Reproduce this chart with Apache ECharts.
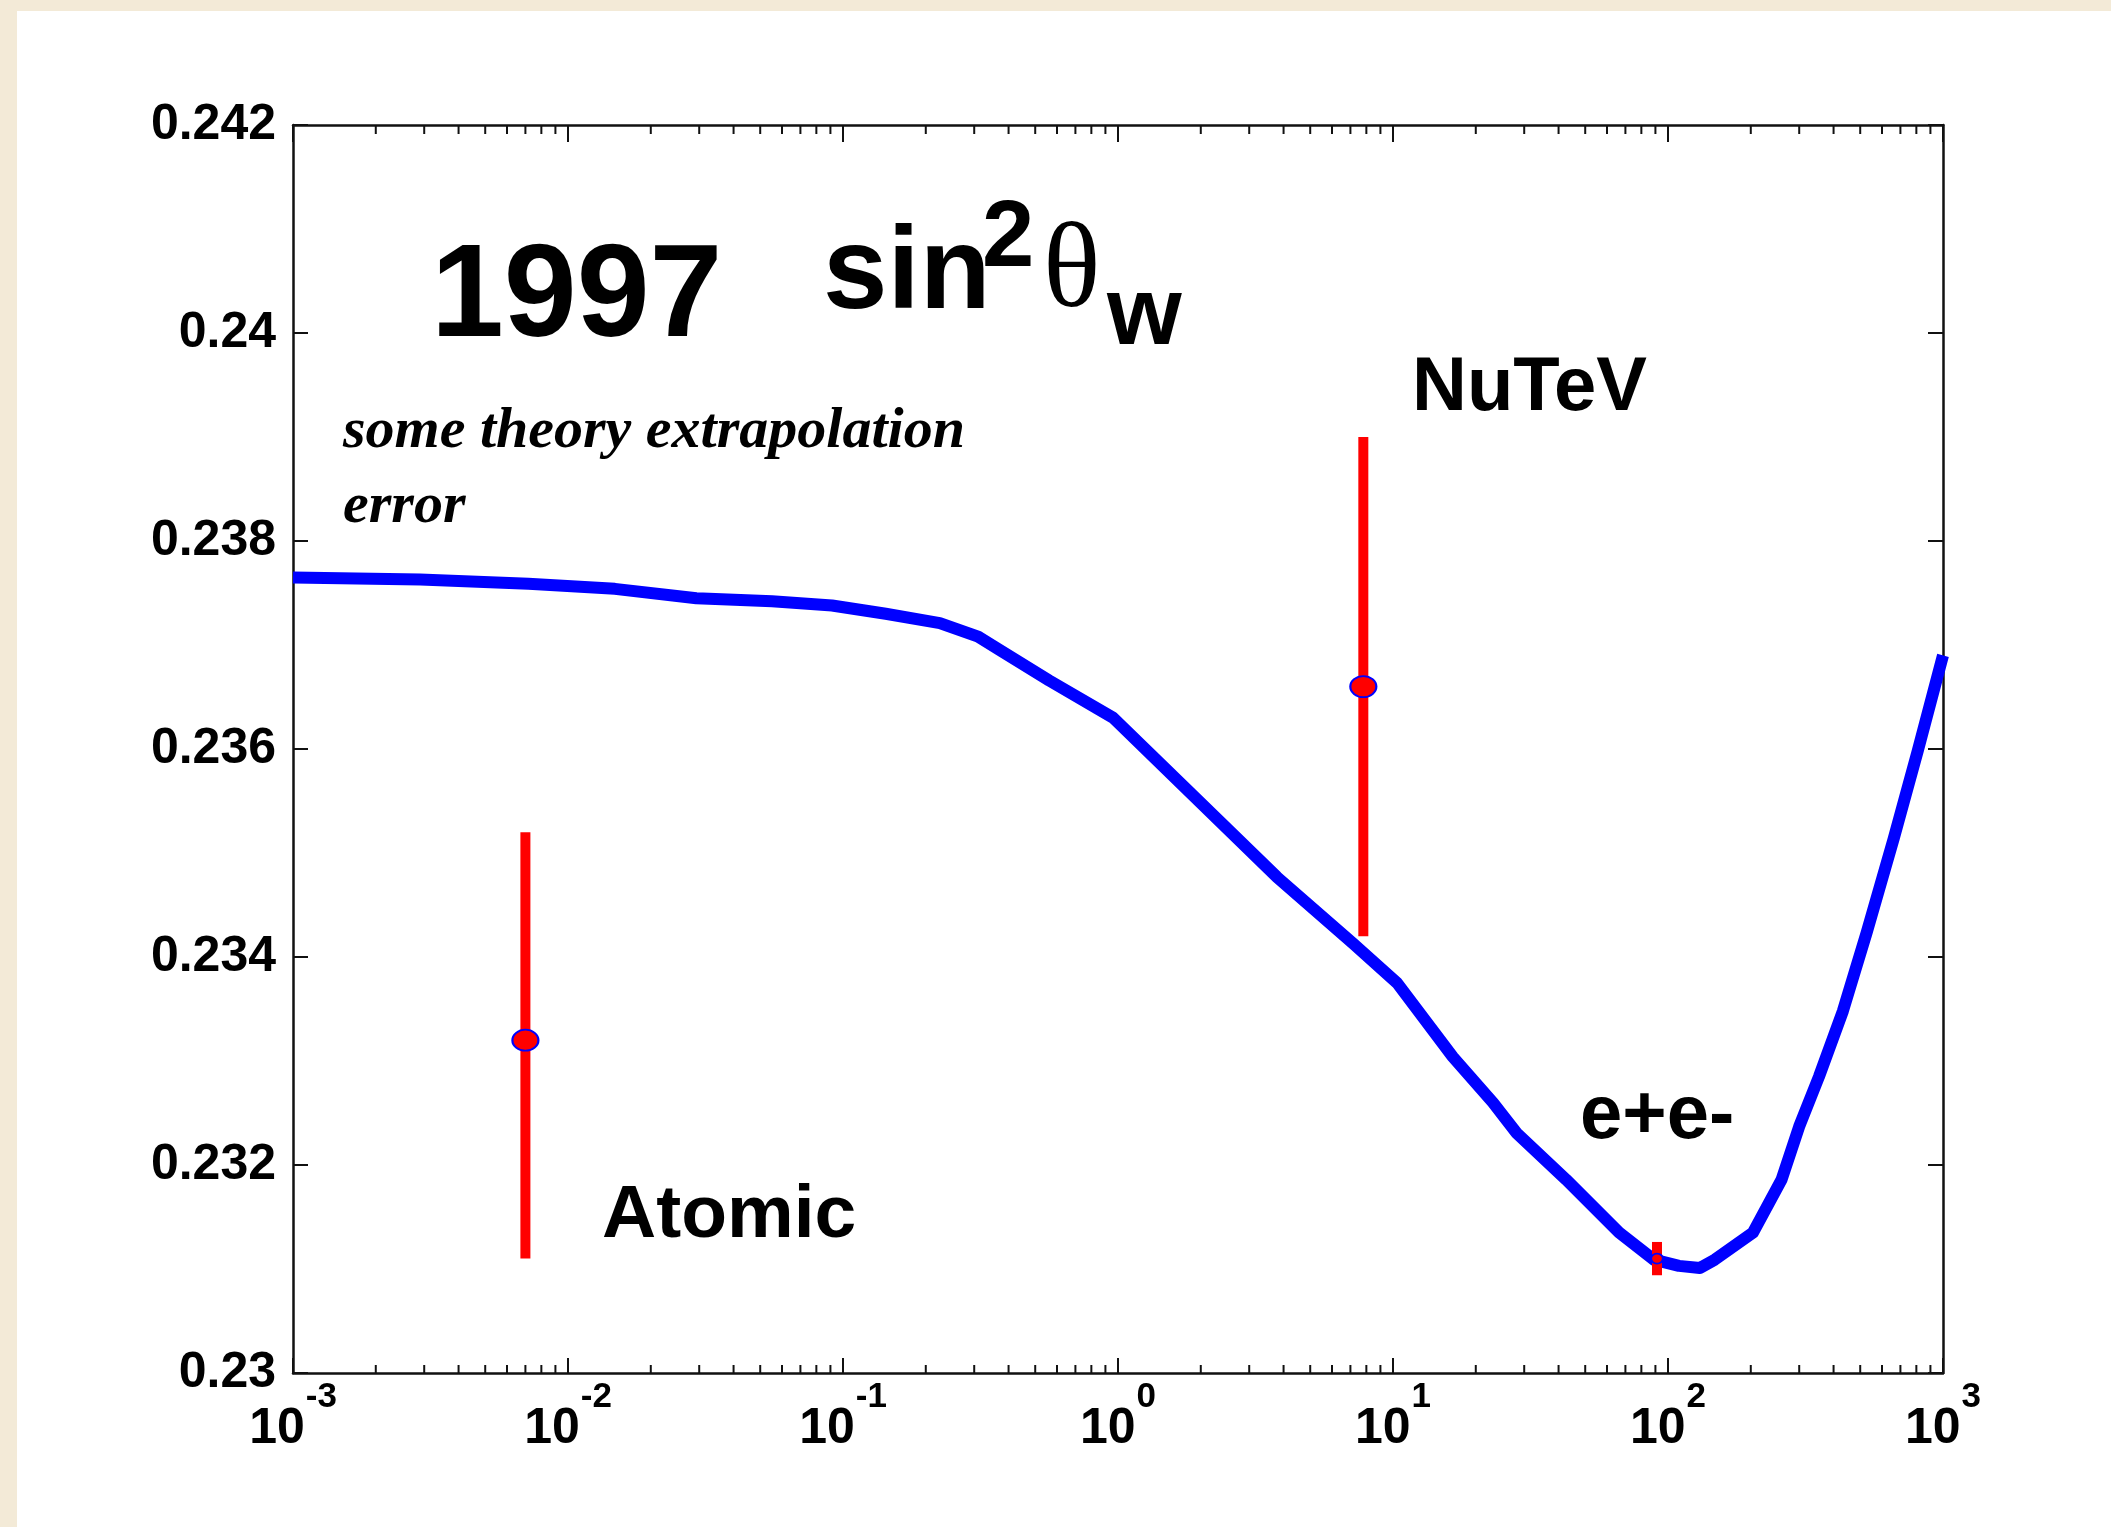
<!DOCTYPE html>
<html>
<head>
<meta charset="utf-8">
<script src="https://cdn.jsdelivr.net/npm/echarts@6/dist/echarts.min.js"></script>
<style>
  html, body { margin: 0; padding: 0; width: 2111px; height: 1527px; background: #f3ead7; overflow: hidden; }
  #panel { position: absolute; left: 17px; top: 11px; right: 0; bottom: 0; background: #ffffff; }
  #chart { position: absolute; left: 0; top: 0; width: 2111px; height: 1527px; }
</style>
</head>
<body>
<div id="panel"></div>
<div id="chart"></div>
<script>
// ---- data ----
// running sin^2 theta_W curve: momentum scale Q (GeV) and value
const curveQ = [0.001, 0.0029, 0.00718, 0.0148, 0.0293, 0.0552, 0.0912, 0.143, 0.225, 0.31, 0.372, 0.561, 0.96,
  3.78, 7.16, 10.35, 16.5, 23.1, 28.1, 42.6, 66.4, 88.9, 109.6, 130.6, 147.9, 203.7, 258.8, 299.9, 354, 432.5,
  527.2, 662.2, 809, 1000];
const curveS = [0.23765, 0.23763, 0.23759, 0.23754, 0.23745, 0.23742, 0.23738, 0.23730, 0.23721, 0.23708, 0.23695,
  0.23666, 0.23630, 0.23477, 0.23413, 0.23375, 0.23304, 0.23260, 0.23231, 0.23186, 0.23135, 0.23109, 0.23103,
  0.23101, 0.23109, 0.23135, 0.23186, 0.23237, 0.23285, 0.23348, 0.23423, 0.23514, 0.23598, 0.23690];

// measurements
const measNames = ['Atomic', 'NuTeV', 'e+e-'];
const measQ = [0.007, 7.8, 91.2];
const measS = [0.2332, 0.2366, 0.2311];
const measLow = [0.2311, 0.2342, 0.23094];
const measHigh = [0.2352, 0.2390, 0.23126];

// axes
const xMin = 0.001, xMax = 1000;
const yMin = 0.23, yMax = 0.242, yStep = 0.002;
const minorMultipliers = [2, 3, 4, 5, 6, 7, 8, 9];
const decadeStarts = [0.001, 0.01, 0.1, 1, 10, 100];

const minorTicks = [];
decadeStarts.forEach(d => minorMultipliers.forEach(m => minorTicks.push([+(d * m).toPrecision(6), yMin])));

const chart = echarts.init(document.getElementById('chart'), null, { renderer: 'canvas' });

const axisLineStyle = { color: '#111', width: 2.5 };
const labelFont = 'Liberation Sans, Arial, sans-serif';

const option = {
  animation: false,
  backgroundColor: 'transparent',
  grid: { left: 293, top: 125, width: 1650, height: 1248, containLabel: false },
  xAxis: [
    {
      type: 'log', logBase: 10, min: xMin, max: xMax, position: 'bottom',
      axisLine: { show: true, onZero: false, lineStyle: axisLineStyle },
      axisTick: { show: true, inside: true, length: 15, lineStyle: { color: '#111', width: 2 } },
      splitLine: { show: false },
      axisLabel: {
        margin: 7,
        formatter: v => '{b|10}{s|' + Math.round(Math.log10(v)) + '}',
        rich: {
          b: { fontSize: 50, fontFamily: labelFont, fontWeight: 'bold', color: '#000', lineHeight: 74, verticalAlign: 'bottom' },
          s: { fontSize: 35, fontFamily: labelFont, fontWeight: 'bold', color: '#000', lineHeight: 35, verticalAlign: 'top', padding: [0, 0, 0, 1] }
        }
      }
    },
    {
      type: 'log', logBase: 10, min: xMin, max: xMax, position: 'top',
      axisLine: { show: true, onZero: false, lineStyle: axisLineStyle },
      axisTick: { show: true, inside: true, length: 17, lineStyle: { color: '#111', width: 2 } },
      axisLabel: { show: false }, splitLine: { show: false }
    }
  ],
  yAxis: [
    {
      type: 'value', min: yMin, max: yMax, interval: yStep, position: 'left',
      axisLine: { show: true, onZero: false, lineStyle: axisLineStyle },
      axisTick: { show: true, inside: true, length: 15, lineStyle: { color: '#111', width: 2 } },
      splitLine: { show: false },
      axisLabel: { fontSize: 50, fontFamily: labelFont, fontWeight: 'bold', color: '#000', margin: 17 }
    },
    {
      type: 'value', min: yMin, max: yMax, interval: yStep, position: 'right',
      axisLine: { show: true, onZero: false, lineStyle: axisLineStyle },
      axisTick: { show: true, inside: true, length: 15, lineStyle: { color: '#111', width: 2 } },
      axisLabel: { show: false }, splitLine: { show: false }
    }
  ],
  series: [
    {
      type: 'custom', name: 'minorTicks', silent: true, clip: false, z: 1,
      encode: { x: 0, y: 1 },
      data: minorTicks,
      renderItem: (params, api) => {
        const x = api.coord([api.value(0), yMin])[0];
        const cs = params.coordSys;
        return {
          type: 'group', children: [
            { type: 'line', shape: { x1: x, y1: cs.y + cs.height, x2: x, y2: cs.y + cs.height - 8 }, style: { stroke: '#111', lineWidth: 2 } },
            { type: 'line', shape: { x1: x, y1: cs.y, x2: x, y2: cs.y + 9 }, style: { stroke: '#111', lineWidth: 2 } }
          ]
        };
      }
    },
    {
      type: 'line', name: 'running', data: curveQ.map((q, i) => [q, curveS[i]]),
      showSymbol: false, symbol: 'none', smooth: false, z: 3,
      lineStyle: { color: '#0000ff', width: 12, join: 'round', cap: 'butt' }
    },
    {
      type: 'custom', name: 'errors', z: 4, clip: false,
      encode: { x: 0, y: [1, 2] },
      data: measQ.map((q, i) => [q, measLow[i], measHigh[i]]),
      renderItem: (params, api) => {
        const p1 = api.coord([api.value(0), api.value(1)]);
        const p2 = api.coord([api.value(0), api.value(2)]);
        return { type: 'line', shape: { x1: p1[0], y1: p1[1], x2: p2[0], y2: p2[1] }, style: { stroke: '#ff0000', lineWidth: 10, lineCap: 'butt' } };
      }
    },
    {
      type: 'scatter', name: 'points', z: 5,
      data: measQ.map((q, i) => ({ value: [q, measS[i]], symbolSize: i === 2 ? [12, 10] : [26, 21] })),
      symbol: 'circle',
      itemStyle: { color: '#ff0000', borderColor: '#0000ff', borderWidth: 2, opacity: 1 }
    }
  ],
  graphic: [
    { type: 'text', z: 10, style: { text: '1997', x: 431, y: 300, verticalAlign: 'middle', font: 'bold 131px "Liberation Sans", Arial, sans-serif', fill: '#000' } },
    { type: 'text', z: 10, style: { text: 'sin', x: 823, y: 276, verticalAlign: 'middle', font: 'bold 116px "Liberation Sans", Arial, sans-serif', fill: '#000' } },
    { type: 'text', z: 10, style: { text: '2', x: 982, y: 240, verticalAlign: 'middle', font: 'bold 94px "Liberation Sans", Arial, sans-serif', fill: '#000' } },
    { type: 'text', z: 10, style: { text: 'θ', x: 1043, y: 274, verticalAlign: 'middle', font: '120px "Liberation Serif", "Times New Roman", serif', fill: '#000' } },
    { type: 'text', z: 10, style: { text: 'w', x: 1107, y: 318, verticalAlign: 'middle', font: 'bold 96px "Liberation Sans", Arial, sans-serif', fill: '#000' } },
    { type: 'text', z: 10, style: { text: 'some theory extrapolation', x: 343, y: 432, verticalAlign: 'middle', font: 'italic bold 58px "Liberation Serif", "Times New Roman", serif', fill: '#000' } },
    { type: 'text', z: 10, style: { text: 'error', x: 343, y: 507, verticalAlign: 'middle', font: 'italic bold 58px "Liberation Serif", "Times New Roman", serif', fill: '#000' } },
    { type: 'text', z: 10, style: { text: 'NuTeV', x: 1412, y: 389, verticalAlign: 'middle', font: 'bold 76px "Liberation Sans", Arial, sans-serif', fill: '#000' } },
    { type: 'text', z: 10, style: { text: 'e+e-', x: 1580, y: 1117, verticalAlign: 'middle', font: 'bold 76px "Liberation Sans", Arial, sans-serif', fill: '#000' } },
    { type: 'text', z: 10, style: { text: 'Atomic', x: 602, y: 1216, verticalAlign: 'middle', font: 'bold 75px "Liberation Sans", Arial, sans-serif', fill: '#000' } }
  ]
};
chart.setOption(option);
</script>
</body>
</html>
